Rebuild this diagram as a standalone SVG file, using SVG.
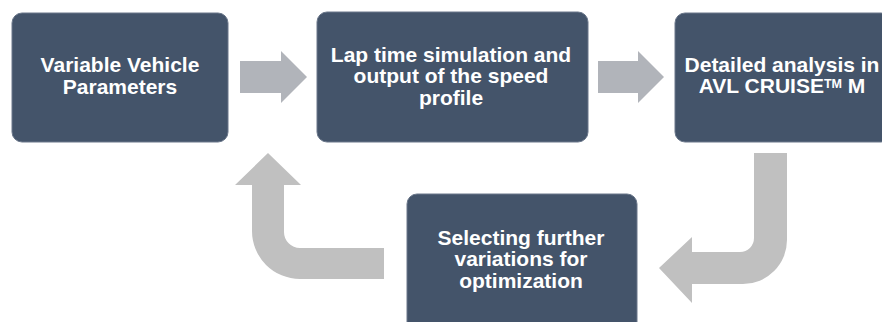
<svg xmlns="http://www.w3.org/2000/svg" width="882" height="322" viewBox="0 0 882 322">
  <style>
    .box { fill: #44546a; stroke: #6a778a; stroke-width: 1; }
    .lbl { fill: #ffffff; font-family: "Liberation Sans", Arial, sans-serif; font-weight: bold; font-size: 21px; text-anchor: middle; }
    .straight { fill: #b1b4ba; }
    .bent { fill: #c0c0c0; }
  </style>
  <rect width="882" height="322" fill="#ffffff"/>

  <g id="connectors">
    <path class="straight" d="M240,61 L281,61 L281,51 L307,77 L281,103 L281,93 L240,93 Z"/>
    <path class="straight" d="M598,61 L638,61 L638,51 L664,77 L638,103 L638,93 L598,93 Z"/>
    <path class="bent" d="M754,153 L787,153 L787,240 A44,44 0 0 1 743,284 L692,284 L692,303 L659,268 L692,237 L692,252 L740,252 A14,14 0 0 0 754,238 Z"/>
    <path class="bent" d="M384,248 L300,248 A16,16 0 0 1 284,232 L284,185 L301,185 L268,153 L235,185 L252,185 L252,231 A48,48 0 0 0 300,279 L384,279 Z"/>
  </g>

  <g id="node-variable-parameters">
    <rect class="box" x="12" y="13" width="216" height="129" rx="10"/>
    <text class="lbl" x="120" y="72">Variable Vehicle</text>
    <text class="lbl" x="120" y="94">Parameters</text>
  </g>

  <g id="node-lap-time-simulation">
    <rect class="box" x="317" y="12" width="271" height="130" rx="10"/>
    <text class="lbl" x="451" y="62">Lap time simulation and</text>
    <text class="lbl" x="451" y="83">output of the speed</text>
    <text class="lbl" x="451" y="105">profile</text>
  </g>

  <g id="node-detailed-analysis">
    <rect class="box" x="675" y="13" width="216" height="129" rx="10"/>
    <text class="lbl" x="782" y="72">Detailed analysis in</text>
    <text class="lbl" x="782" y="93">AVL CRUISE<tspan font-size="12.5" dy="-5">TM</tspan><tspan dy="5"> M</tspan></text>
  </g>

  <g id="node-selecting-variations">
    <rect class="box" x="407" y="194" width="230" height="140" rx="10"/>
    <text class="lbl" x="521" y="245">Selecting further</text>
    <text class="lbl" x="521" y="266">variations for</text>
    <text class="lbl" x="521" y="288">optimization</text>
  </g>
</svg>
